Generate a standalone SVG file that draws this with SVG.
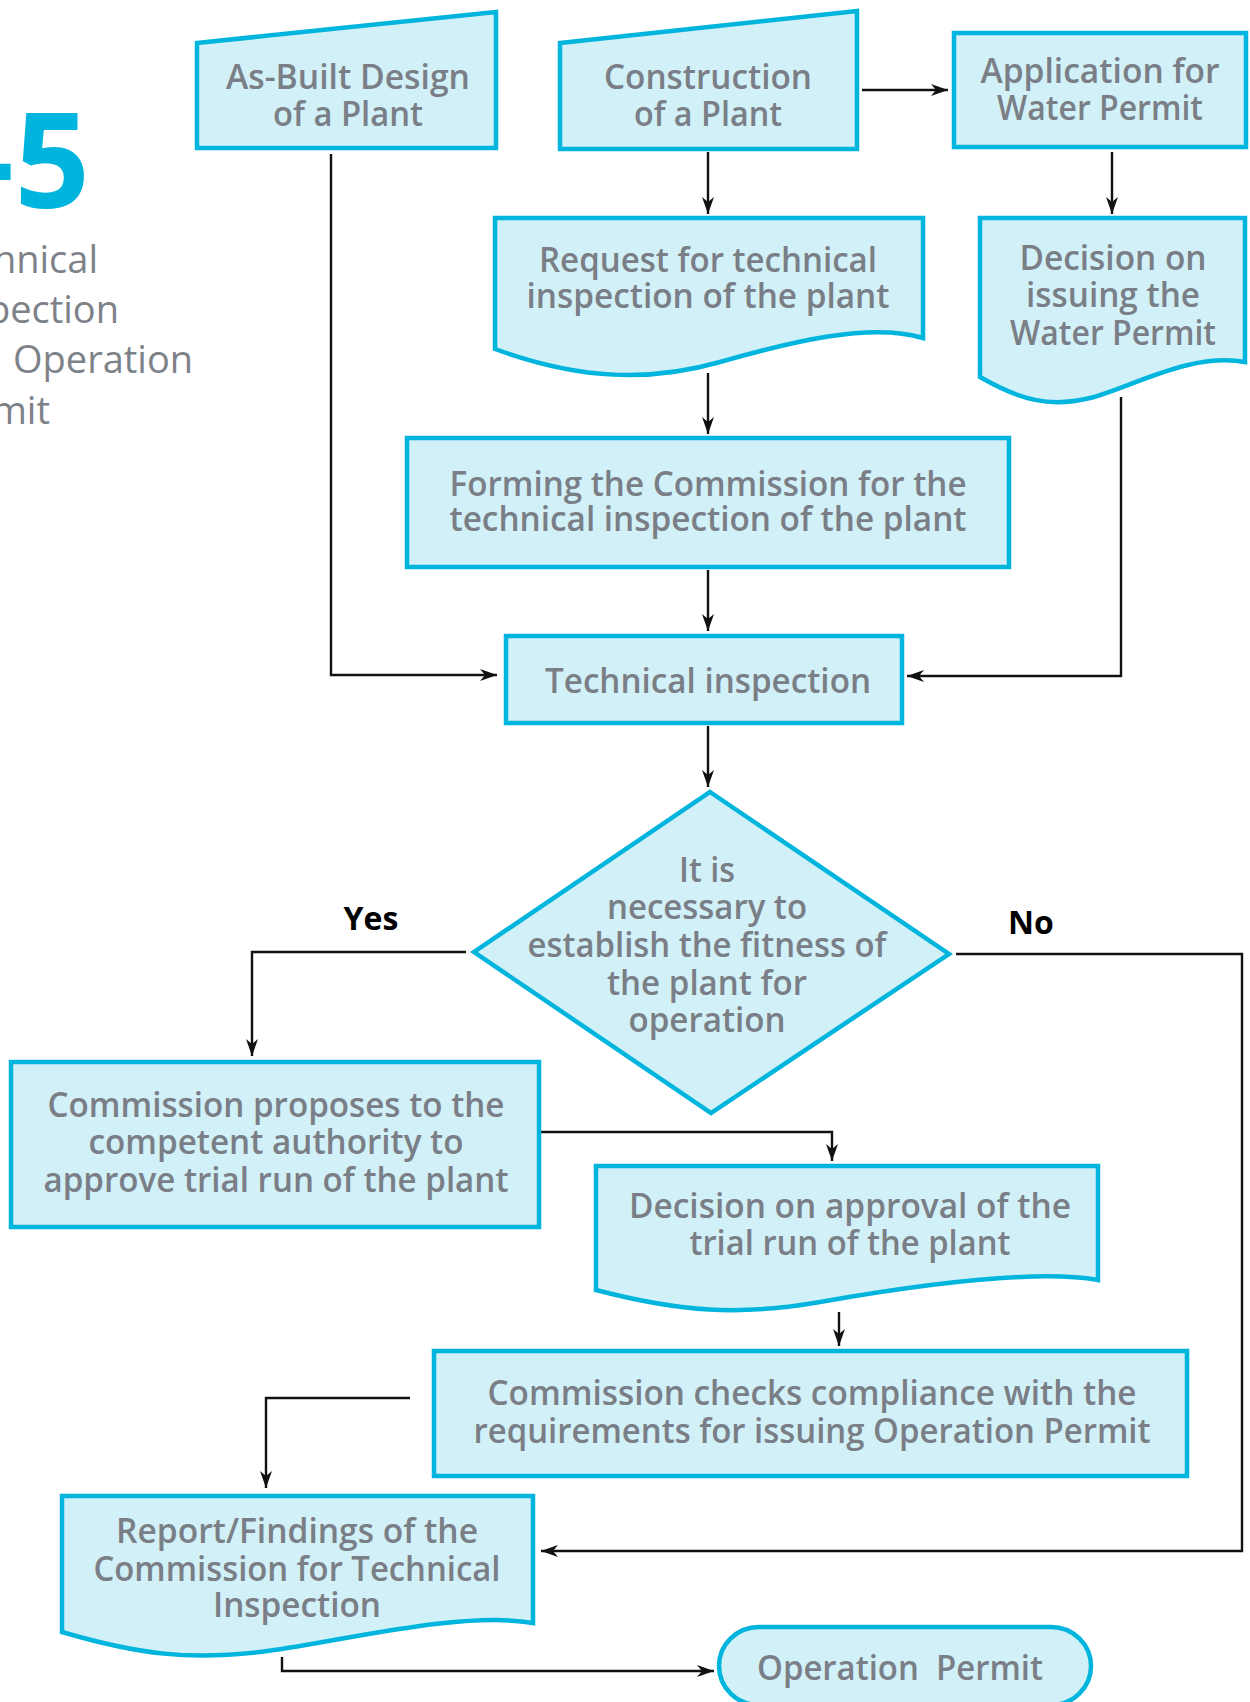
<svg xmlns="http://www.w3.org/2000/svg" width="1250" height="1702" viewBox="0 0 1250 1702">
<defs>
<marker id="arr" markerUnits="userSpaceOnUse" markerWidth="17" markerHeight="12" refX="17" refY="6" orient="auto">
<path d="M0,0 L17,6 L0,12 L5,6 Z" fill="#111"/>
</marker>
<style>
.box{fill:#d1f0f7;stroke:#00b5dd;stroke-width:4.5}
.t{font-family:"Open Sans","Liberation Sans",sans-serif;font-weight:600;font-size:35px;fill:#7a7e86;text-anchor:middle}
.c{fill:none;stroke:#111;stroke-width:2.4;marker-end:url(#arr)}
.lbl{font-family:"Open Sans","Liberation Sans",sans-serif;font-weight:700;font-size:32px;fill:#000;text-anchor:middle}
.title{font-family:"Open Sans","Liberation Sans",sans-serif;font-weight:400;font-size:38px;fill:#7d8289}
</style>
</defs>
<rect width="1250" height="1702" fill="#fff"/>

<g id="title">
<text x="90" y="208" style="font-family:'Open Sans','Liberation Sans',sans-serif;font-weight:700;font-size:132px;fill:#00b5dd;text-anchor:end">-5</text>
<text class="title" x="98" y="273" text-anchor="end">Technical</text>
<text class="title" x="119" y="323" text-anchor="end">Inspection</text>
<text class="title" x="13" y="373">Operation</text>
<text class="title" x="50" y="424" text-anchor="end">Permit</text>
</g>

<g id="connectors">
<path class="c" d="M331,154 V675 H497"/>
<path class="c" d="M862,90 H948"/>
<path class="c" d="M708,152 V214"/>
<path class="c" d="M1112,152 V214"/>
<path class="c" d="M708,373 V434"/>
<path class="c" d="M1121,397 V676 H907"/>
<path class="c" d="M708,570 V631"/>
<path class="c" d="M708,726 V787"/>
<path class="c" d="M466,952 H252 V1056"/>
<path class="c" d="M956,954 H1242 V1551 H541"/>
<path class="c" d="M539,1132 H832 V1161"/>
<path class="c" d="M839,1312 V1346"/>
<path class="c" d="M410,1398 H266 V1488"/>
<path class="c" d="M282,1657 V1671 H714"/>
</g>

<g id="asbuilt">
<polygon class="box" points="197,43 496,12 496,148 197,148"/>
<text class="t" x="348" y="89" textLength="244" lengthAdjust="spacingAndGlyphs">As-Built Design</text>
<text class="t" x="348" y="126" textLength="150" lengthAdjust="spacingAndGlyphs">of a Plant</text>
</g>

<g id="construction">
<polygon class="box" points="560,43 857,11 857,149 560,149"/>
<text class="t" x="708" y="89" textLength="208" lengthAdjust="spacingAndGlyphs">Construction</text>
<text class="t" x="708" y="126" textLength="148" lengthAdjust="spacingAndGlyphs">of a Plant</text>
</g>

<g id="application">
<rect class="box" x="954" y="33" width="292" height="114"/>
<text class="t" x="1100" y="83" textLength="239" lengthAdjust="spacingAndGlyphs">Application for</text>
<text class="t" x="1100" y="120" textLength="206" lengthAdjust="spacingAndGlyphs">Water Permit</text>
</g>

<g id="request">
<path class="box" d="M495,218 H923 V338 C870,322 790,342 720,362 C650,382 580,380 495,349 Z"/>
<text class="t" x="708" y="272" textLength="338" lengthAdjust="spacingAndGlyphs">Request for technical</text>
<text class="t" x="708" y="308" textLength="363" lengthAdjust="spacingAndGlyphs">inspection of the plant</text>
</g>

<g id="decision-water">
<path class="box" d="M980,218 H1245 V362 C1190,352 1130,388 1090,398 C1050,408 1020,400 980,377 Z"/>
<text class="t" x="1113" y="270" textLength="187" lengthAdjust="spacingAndGlyphs">Decision on</text>
<text class="t" x="1113" y="307" textLength="174" lengthAdjust="spacingAndGlyphs">issuing the</text>
<text class="t" x="1113" y="345" textLength="206" lengthAdjust="spacingAndGlyphs">Water Permit</text>
</g>

<g id="forming">
<rect class="box" x="407" y="438" width="602" height="129"/>
<text class="t" x="708" y="496" textLength="517" lengthAdjust="spacingAndGlyphs">Forming the Commission for the</text>
<text class="t" x="708" y="531" textLength="517" lengthAdjust="spacingAndGlyphs">technical inspection of the plant</text>
</g>

<g id="technical-inspection">
<rect class="box" x="506" y="636" width="396" height="87"/>
<text class="t" x="708" y="693" textLength="326" lengthAdjust="spacingAndGlyphs">Technical inspection</text>
</g>

<g id="decision">
<polygon class="box" points="710,792 949,954 711,1113 474,952"/>
<text class="t" x="707" y="882" textLength="56" lengthAdjust="spacingAndGlyphs">It is</text>
<text class="t" x="707" y="919" textLength="200" lengthAdjust="spacingAndGlyphs">necessary to</text>
<text class="t" x="707" y="957" textLength="359" lengthAdjust="spacingAndGlyphs">establish the fitness of</text>
<text class="t" x="707" y="995" textLength="200" lengthAdjust="spacingAndGlyphs">the plant for</text>
<text class="t" x="707" y="1032" textLength="157" lengthAdjust="spacingAndGlyphs">operation</text>
</g>

<g id="labels">
<text class="lbl" x="371" y="930">Yes</text>
<text class="lbl" x="1031" y="934">No</text>
</g>

<g id="proposes">
<rect class="box" x="11" y="1062" width="528" height="165"/>
<text class="t" x="276" y="1117" textLength="457" lengthAdjust="spacingAndGlyphs">Commission proposes to the</text>
<text class="t" x="276" y="1154" textLength="375" lengthAdjust="spacingAndGlyphs">competent authority to</text>
<text class="t" x="276" y="1192" textLength="465" lengthAdjust="spacingAndGlyphs">approve trial run of the plant</text>
</g>

<g id="decision-approval">
<path class="box" d="M596,1166 H1098 V1280 C1030,1268 900,1288 820,1302 C740,1316 680,1312 596,1290 Z"/>
<text class="t" x="850" y="1218" textLength="442" lengthAdjust="spacingAndGlyphs">Decision on approval of the</text>
<text class="t" x="850" y="1255" textLength="321" lengthAdjust="spacingAndGlyphs">trial run of the plant</text>
</g>

<g id="checks">
<rect class="box" x="434" y="1351" width="753" height="125"/>
<text class="t" x="812" y="1405" textLength="649" lengthAdjust="spacingAndGlyphs">Commission checks compliance with the</text>
<text class="t" x="812" y="1443" textLength="677" lengthAdjust="spacingAndGlyphs">requirements for issuing Operation Permit</text>
</g>

<g id="report">
<path class="box" d="M62,1496 H533 V1623 C460,1610 330,1644 260,1652 C190,1660 140,1655 62,1632 Z"/>
<text class="t" x="297" y="1543" textLength="362" lengthAdjust="spacingAndGlyphs">Report/Findings of the</text>
<text class="t" x="297" y="1581" textLength="407" lengthAdjust="spacingAndGlyphs">Commission for Technical</text>
<text class="t" x="297" y="1617" textLength="168" lengthAdjust="spacingAndGlyphs">Inspection</text>
</g>

<g id="operation-permit">
<rect class="box" x="719" y="1627" width="372" height="78" rx="40" ry="40"/>
<text class="t" x="900" y="1680" xml:space="preserve" textLength="286" lengthAdjust="spacingAndGlyphs">Operation  Permit</text>
</g>
</svg>
